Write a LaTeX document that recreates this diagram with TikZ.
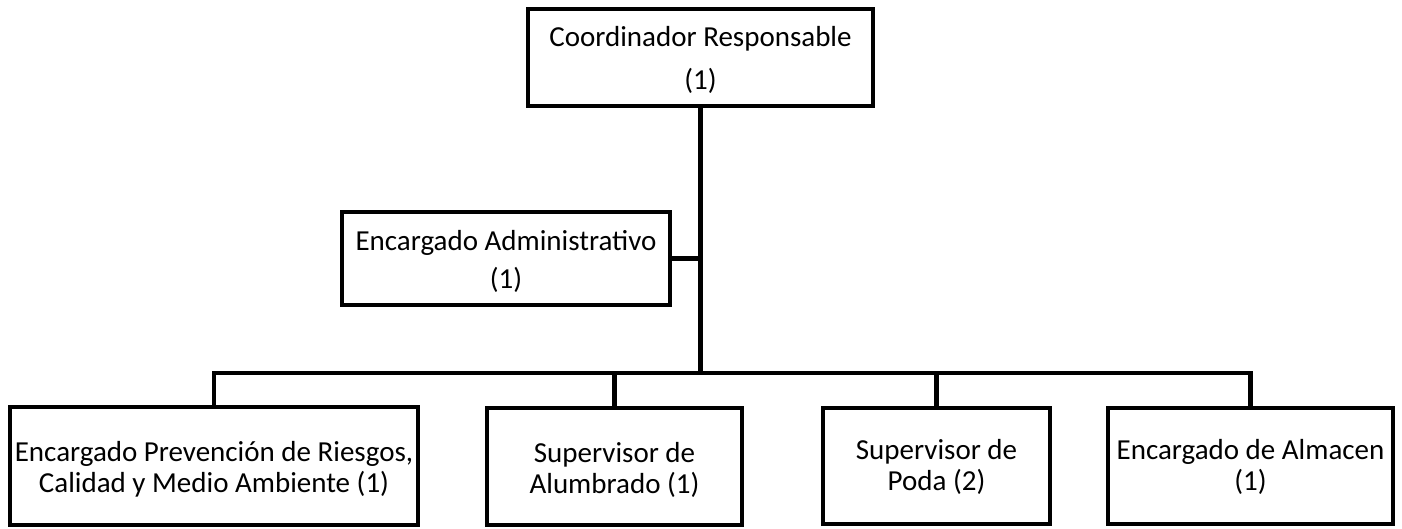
\documentclass[tikz,border=0pt]{standalone}
\usepackage{fontspec}
\setmainfont{Carlito}
\usetikzlibrary{calc}

\begin{document}
\begin{tikzpicture}[x=0.5pt, y=-0.5pt,
    puesto/.style={draw=black, line width=2.3pt, inner sep=0pt},
    rotulo/.style={align=center, inner sep=0pt, font=\fontsize{14.5}{15.5}\selectfont},
    linea/.style={draw=black, line width=2.3pt}]
            % Frame to fix the size:
            \useasboundingbox (0,0) rectangle (1402,529);
            % Top level
            \node[puesto, minimum width=172.5pt, minimum height=48.5pt] (coord) at (700.5, 57.5) {};
            \node[rotulo, font=\fontsize{14.5}{21.5}\selectfont] (coordtxt) at ($(coord)+(0,2)$) {Coordinador Responsable\\(1)};
            % Staff
            \node[puesto, minimum width=164pt, minimum height=46.5pt] (admin) at (506, 258.5) {};
            \node[rotulo, font=\fontsize{14.5}{19}\selectfont] (admintxt) at ($(admin)+(0,3)$) {Encargado Administrativo\\(1)};
            % Bottom level
            \node[puesto, minimum width=204pt, minimum height=59pt] (prev) at (214, 466) {};
            \node[rotulo] (prevtxt) at ($(prev)+(0,3)$) {Encargado Prevención de Riesgos,\\Calidad y Medio Ambiente (1)};
            \node[puesto, minimum width=127.5pt, minimum height=58.5pt] (alum) at (614.5, 466.5) {};
            \node[rotulo] (alumtxt) at ($(alum)+(0,3)$) {Supervisor de\\Alumbrado (1)};
            \node[puesto, minimum width=113.5pt, minimum height=58pt] (poda) at (936.5, 466) {};
            \node[rotulo] (podatxt) at ($(poda)+(0,1)$) {Supervisor de\\Poda (2)};
            \node[puesto, minimum width=142.5pt, minimum height=58pt] (alm) at (1250.5, 466) {};
            \node[rotulo] (almtxt) at ($(alm)+(0,1)$) {Encargado de Almacen\\(1)};
            % Connectors
            \coordinate (bus) at (700.5, 373);
            \draw[linea] (coord.south) -- (bus);
            \draw[linea] (admin.east) -- (admin.east -| coord.south);
            \draw[linea] (prev.north) |- (bus) -| (alm.north);
            \draw[linea] (alum.north) -- (alum.north |- bus);
            \draw[linea] (poda.north) -- (poda.north |- bus);
        \end{tikzpicture}
\end{document}
